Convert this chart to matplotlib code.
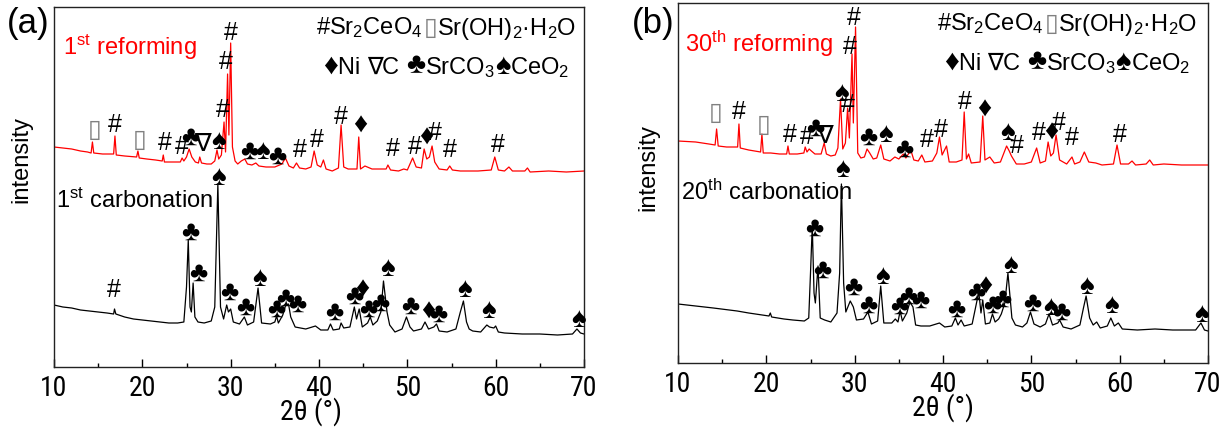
import matplotlib
matplotlib.use('Agg')
import matplotlib.pyplot as plt
from matplotlib import font_manager as fm
from matplotlib.offsetbox import TextArea, HPacker, AnnotationBbox

plt.rcParams['font.family'] = ['Liberation Sans', 'DejaVu Sans']
plt.rcParams['mathtext.fontset'] = 'custom'
plt.rcParams['mathtext.rm'] = 'Liberation Sans'
plt.rcParams['mathtext.it'] = 'Liberation Sans:italic'
plt.rcParams['mathtext.bf'] = 'Liberation Sans:bold'

# narrow face for the axis numbers, whichever is around
have = set(f.name for f in fm.fontManager.ttflist)
narrow = 'Liberation Sans'
for cand in ['Liberation Sans Narrow', 'Arial Narrow', 'Roboto Condensed', 'Archivo Narrow',
             'Open Sans Condensed', 'Noto Sans Condensed', 'Asap Condensed', 'Barlow Condensed']:
    if cand in have:
        narrow = cand
        break
NARROW = [narrow, 'DejaVu Sans']
SYM = ['Liberation Sans', 'DejaVu Sans']

# ---------------- panel (a) ----------------
a_ref_x = [10, 11, 12, 13, 13.8, 14.2, 14.35, 14.5, 15.5, 16.75, 16.9, 17.05, 18.0, 19.35, 19.5, 19.65,
           20.5, 21.5, 22.25, 22.37, 22.5, 23.5, 24.3, 24.5, 24.7, 25.0, 25.3, 25.6, 26.0, 26.35, 26.5,
           26.7, 27.3, 27.8, 28.2, 28.45, 28.65, 28.95, 29.25, 29.42, 29.65, 29.8, 30.0, 30.2, 30.5, 30.8,
           31.2, 31.6, 31.9, 32.4, 32.85, 33.2, 34.0, 35.0, 35.8, 36.2, 36.6, 37.1, 37.45, 37.8, 38.5,
           39.1, 39.45, 39.8, 40.2, 40.5, 40.8, 41.5, 42.2, 42.5, 42.8, 43.3, 44.3, 44.5, 44.7, 45.2,
           46.0, 47.0, 47.6, 47.8, 48.1, 49.0, 49.6, 50.0, 50.6, 51.0, 51.6, 51.9, 52.2, 52.5, 52.8,
           53.1, 53.6, 54.5, 54.8, 55.1, 56, 57, 58, 59.5, 59.9, 60.3, 61.0, 61.5, 61.9, 63.3, 63.6,
           63.9, 66, 68, 70]
a_ref_y = [220, 219, 218, 216, 215, 214, 225, 214, 213, 213, 231, 212, 211, 210, 216, 209,
           208, 207, 206, 212, 205, 205, 205, 209, 206, 210, 218, 210, 205, 204, 210,
           204, 203, 203, 206, 217, 208, 212, 245, 215, 293, 232, 324, 220, 206, 203,
           206, 208, 203, 202, 204, 201, 200, 200, 203, 209, 201, 199, 204, 199, 198,
           200, 216, 202, 200, 207, 198, 196, 199, 242, 200, 198, 198, 230, 198, 201,
           198, 198, 198, 202, 197, 196, 198, 197, 209, 200, 199, 218, 208, 210, 221,
           205, 198, 197, 201, 197, 196, 196, 196, 197, 210, 197, 196, 200, 196, 196, 199,
           195, 196, 195, 196]

a_carb_x = [10, 11, 12, 13, 14, 15, 16, 16.75, 16.85, 17.0, 18, 19, 20, 21, 22, 23, 24, 24.7, 25.0,
            25.2, 25.4, 25.55, 25.75, 25.95, 26.3, 27.0, 27.8, 28.2, 28.55, 28.85, 29.2, 29.55, 29.75,
            30.0, 30.3, 31.0, 31.55, 31.9, 32.6, 33.1, 33.5, 34.5, 35.0, 35.2, 35.4, 35.9, 36.2, 36.55,
            36.8, 37.3, 38.5, 39.6, 40.2, 41.0, 41.3, 41.6, 42.3, 42.5, 42.8, 43.5, 44.0, 44.25, 44.55,
            44.9, 45.5, 45.8, 46.1, 46.6, 47.0, 47.3, 47.7, 48.0, 48.6, 49.4, 49.9, 50.3, 50.7, 51.6,
            52.0, 52.4, 53.0, 53.3, 53.6, 54.5, 55.5, 56.0, 56.35, 56.7, 57.0, 57.4, 58.3, 59.0, 59.3,
            59.8, 60.0, 60.3, 61, 63, 65, 67, 68.7, 69.2, 69.6, 70]
a_carb_y = [62, 60, 59, 57, 56, 55, 54, 53, 58, 53, 50, 48, 47, 46, 45, 44, 44, 45, 80,
            127, 60, 55, 84, 50, 45, 44, 46, 60, 183, 60, 48, 62, 55,
            58, 45, 43, 50, 42, 45, 79, 44, 43, 45, 51, 44, 52, 61, 63,
            50, 40, 38, 41, 37, 37, 43, 37, 38, 44, 39, 40, 60, 48, 58,
            40, 44, 50, 42, 46, 55, 86, 55, 42, 35, 38, 50, 40, 36, 38,
            45, 38, 40, 43, 36, 35, 38, 55, 66, 45, 38, 36, 35, 42, 40,
            39, 41, 35, 34, 33, 33, 32, 33, 38, 34, 33]

a_ref_sym = ['▯', '#', '▯', '#', '#', '♣', '∇', '♠', '#', '#', '#', '♣', '♠', '♣', '#', '#', '#',
             '♦', '#', '#', '♦', '#', '#', '#']
a_ref_sx = [14.6, 16.9, 19.7, 22.6, 24.45, 25.4, 26.8, 28.6, 29.1, 29.5, 30.0, 32.1, 33.6, 35.3,
            37.8, 39.8, 42.5, 44.7, 48.4, 50.9, 52.1, 53.1, 54.85, 60.2]
a_ref_sy = [238, 243, 228, 225, 221, 230, 225, 226, 258, 306, 335, 216, 216, 211,
            218, 228, 251, 242, 219, 221, 230, 235, 218, 223]

a_carb_sym = ['#', '♣', '♣', '♠', '♣', '♣', '♠', '♣', '♣', '♣', '♣', '♣', '♦', '♣', '♣', '♠',
              '♣', '♦', '♣', '♠', '♠', '♠']
a_carb_sx = [16.8, 25.4, 26.3, 28.6, 29.9, 31.7, 33.3, 35.2, 36.2, 37.5, 41.7, 44.0, 44.9, 45.6,
             46.9, 47.8, 50.3, 52.4, 53.5, 56.5, 59.2, 69.4]
a_carb_sy = [78, 135, 94, 190, 75, 60, 89, 58, 69, 63, 55, 71, 78, 58,
             64, 99, 61, 56, 53, 78, 57, 48]

# ---------------- panel (b) ----------------
b_ref_x = [10, 12, 13.5, 14.2, 14.37, 14.55, 15.5, 16.75, 16.9, 17.05, 18.0, 19.35, 19.5, 19.65,
           20.5, 21.5, 22.3, 22.45, 22.6, 23.5, 24.25, 24.4, 24.6, 24.85, 25.1, 25.5, 26.2, 26.55,
           26.8, 27.3, 27.8, 28.1, 28.4, 28.65, 28.95, 29.2, 29.4, 29.7, 29.85, 30.1, 30.35, 30.7,
           31.1, 31.4, 31.7, 32.1, 32.5, 32.95, 33.3, 34.0, 34.55, 35.0, 35.5, 35.8, 36.35, 36.7,
           37.2, 37.6, 37.95, 38.8, 39.3, 39.6, 39.9, 40.4, 40.7, 41.5, 42.15, 42.4, 42.65, 42.9,
           43.2, 44.2, 44.5, 44.75, 45.3, 45.8, 46.5, 47.2, 47.5, 47.75, 48.3, 49.2, 50.0, 50.6,
           51.0, 51.6, 51.9, 52.2, 52.5, 52.8, 53.2, 54.0, 54.6, 54.9, 55.5, 56.0, 56.5, 57.3,
           58.0, 59.3, 59.7, 60.1, 61.0, 61.4, 61.8, 63.0, 63.4, 63.8, 65.0, 67.0, 70]
b_ref_y = [222, 221, 219, 218, 234, 217, 216, 216, 239, 215, 213, 211, 229, 210,
           210, 209, 209, 217, 209, 209, 210, 216, 211, 214, 212, 209, 209, 220,
           209, 207, 208, 215, 264, 214, 220, 255, 225, 309, 240, 336, 210, 205,
           206, 214, 210, 204, 205, 218, 204, 202, 206, 204, 209, 205, 213, 203,
           202, 208, 201, 202, 210, 226, 208, 217, 201, 201, 203, 251, 204, 209,
           200, 201, 247, 203, 206, 200, 201, 217, 212, 207, 199, 199, 201, 215,
           200, 202, 221, 207, 210, 228, 203, 199, 206, 199, 201, 211, 201, 200,
           198, 199, 218, 199, 199, 202, 198, 199, 203, 198, 199, 198, 198]

b_carb_x = [10, 12, 14, 16.7, 18, 20.3, 20.45, 20.6, 22, 23, 24.3, 24.8, 25.0, 25.2, 25.4, 25.55,
            25.85, 26.1, 26.6, 27.3, 28.0, 28.3, 28.5, 28.75, 29.0, 29.5, 29.85, 30.2, 31.0, 31.5,
            31.9, 32.6, 32.95, 33.3, 34.2, 34.6, 34.9, 35.15, 35.4, 35.9, 36.25, 36.6, 36.9, 37.5,
            38.5, 39.6, 40.2, 41.0, 41.4, 41.7, 42.05, 42.4, 43.3, 44.05, 44.3, 44.5, 44.8, 45.3,
            45.6, 45.9, 46.3, 46.6, 47.0, 47.35, 47.8, 48.2, 49.0, 49.5, 49.9, 50.3, 51.0, 51.6,
            52.0, 52.4, 53.0, 53.2, 53.6, 54.5, 55.5, 55.9, 56.2, 56.6, 57.0, 57.4, 57.8, 58.6,
            59.0, 59.4, 59.85, 60.3, 62, 64, 66, 68.6, 69.2, 69.6, 70]
b_carb_y = [59, 57, 55, 52, 50, 47, 50, 46, 44, 43, 42, 45, 90, 137, 70, 60,
            97, 45, 43, 41, 50, 90, 179, 80, 51, 62, 56, 43, 44, 51,
            39, 42, 77, 40, 40, 44, 41, 52, 42, 50, 61, 56, 38, 37,
            37, 40, 36, 37, 45, 38, 43, 37, 39, 71, 50, 63, 39, 40,
            49, 41, 44, 49, 60, 90, 45, 38, 36, 40, 51, 39, 36, 39,
            49, 38, 40, 43, 36, 34, 38, 55, 67, 45, 38, 41, 35, 37,
            45, 37, 40, 34, 33, 34, 33, 33, 40, 33, 32]

b_ref_sym = ['▯', '#', '▯', '#', '#', '♣', '∇', '♠', '#', '#', '#', '♣', '♠', '♣', '#', '#', '#',
             '♦', '♠', '#', '#', '♦', '#', '#', '#']
b_ref_sx = [14.3, 16.9, 19.65, 22.7, 24.55, 25.5, 26.6, 28.5, 29.2, 29.5, 29.95, 31.5, 33.5, 35.6,
            38.2, 39.8, 42.5, 44.7, 47.35, 48.4, 50.9, 52.2, 53.1, 54.6, 60.0]
b_ref_sy = [251, 252, 239, 229, 227, 235, 229, 270, 259, 317, 346, 226, 229, 214,
            224, 234, 262, 254, 231, 218, 231, 231, 241, 226, 229]

b_carb_sym = ['♣', '♣', '♠', '♣', '♣', '♠', '♣', '♣', '♣', '♣', '♣', '♦', '♣', '♣', '♠', '♣',
              '♠', '♣', '♠', '♠', '♠']
b_carb_sx = [25.4, 26.3, 28.6, 29.85, 31.6, 33.15, 35.1, 36.1, 37.4, 41.5, 43.8, 44.8, 45.6, 46.7,
             47.6, 50.1, 52.2, 53.45, 56.3, 59.05, 69.3]
b_carb_sy = [135, 93, 194, 76, 58, 87, 57, 67, 63, 54, 71, 77, 58, 64,
             98, 60, 56, 51, 77, 58, 49]

panels = [
    dict(pos=[54 / 1231, 63 / 431, 530 / 1231, 360 / 431], tag='(a)', tagx=28,
         ref=(a_ref_x, a_ref_y), carb=(a_carb_x, a_carb_y),
         rsym=(a_ref_sym, a_ref_sx, a_ref_sy), csym=(a_carb_sym, a_carb_sx, a_carb_sy),
         rlab=r'1$^{\mathrm{st}}$ reforming', clab=r'1$^{\mathrm{st}}$ carbonation',
         rpos=(0.017, 0.869), cpos=(0.004, 0.444), ylab=(-0.04, 0.58), leg=0.74, xl=0.485),
    dict(pos=[678 / 1231, 67 / 431, 530 / 1231, 360 / 431], tag='(b)', tagx=653,
         ref=(b_ref_x, b_ref_y), carb=(b_carb_x, b_carb_y),
         rsym=(b_ref_sym, b_ref_sx, b_ref_sy), csym=(b_carb_sym, b_carb_sx, b_carb_sy),
         rlab=r'30$^{\mathrm{th}}$ reforming', clab=r'20$^{\mathrm{th}}$ carbonation',
         rpos=(0.013, 0.867), cpos=(0.006, 0.456), ylab=(-0.036, 0.547), leg=0.734, xl=0.5),
]

fig = plt.figure(figsize=(12.31, 4.31), dpi=100)


def sym_size(s):
    # the suit glyphs come out small, so push them up a little
    return 20 if s in '♣♠♦' else 18


for p in panels:
    ax = fig.add_axes(p['pos'])
    ax.plot(p['ref'][0], p['ref'][1], color='red', lw=0.9)
    ax.plot(p['carb'][0], p['carb'][1], color='black', lw=0.9)
    ax.set_xlim(10, 70)
    ax.set_ylim(0, 360)
    ax.set_yticks([])
    ax.set_xticks([10, 20, 30, 40, 50, 60, 70])
    ax.set_xticks([15, 25, 35, 45, 55, 65], minor=True)
    ax.tick_params(axis='x', which='major', direction='in', length=6, width=1, pad=5,
                   labelsize=20)
    ax.tick_params(axis='x', which='minor', direction='in', length=3, width=1)
    for lab in ax.get_xticklabels():
        lab.set_family(NARROW)
    for sp in ax.spines.values():
        sp.set_linewidth(1.0)
        sp.set_color('#222222')
    ax.set_xlabel('2θ (°)', fontsize=20, family=NARROW)
    ax.xaxis.set_label_coords(p['xl'], -0.08)
    ax.set_ylabel('intensity', fontsize=17)
    ax.yaxis.set_label_coords(*p['ylab'])

    for s, x, y in zip(*p['rsym']):
        ax.text(x, y, s, ha='center', va='center', fontsize=sym_size(s), family=SYM,
                color='#808080' if s == '▯' else 'black')
    for s, x, y in zip(*p['csym']):
        ax.text(x, y, s, ha='center', va='center', fontsize=sym_size(s), family=SYM,
                color='black')

    ax.text(*p['rpos'], p['rlab'], transform=ax.transAxes, color='red', fontsize=17,
            ha='left', va='baseline')
    ax.text(*p['cpos'], p['clab'], transform=ax.transAxes, color='black', fontsize=17,
            ha='left', va='baseline')

    # phase key, two centred lines
    tp = dict(fontsize=17, color='black')
    sp_ = dict(fontsize=21, color='black', family=SYM)
    line1 = HPacker(children=[
        TextArea('#Sr$_2$CeO$_4$ ', textprops=tp),
        TextArea('▯', textprops=dict(fontsize=18, color='#808080', family=SYM)),
        TextArea('Sr(OH)$_2$·H$_2$O', textprops=tp)], align='baseline', pad=0, sep=0)
    line2 = HPacker(children=[
        TextArea('♦', textprops=sp_),
        TextArea('Ni ', textprops=tp),
        TextArea('∇', textprops=dict(tp, family=SYM)),
        TextArea('C ', textprops=tp),
        TextArea('♣', textprops=sp_),
        TextArea('SrCO$_3$', textprops=tp),
        TextArea('♠', textprops=sp_),
        TextArea('CeO$_2$', textprops=tp)], align='baseline', pad=0, sep=0)
    for box, yy in ((line1, 0.943), (line2, 0.84)):
        ab = AnnotationBbox(box, (p['leg'], yy), xycoords='axes fraction',
                            box_alignment=(0.5, 0.5), frameon=False, pad=0)
        ax.add_artist(ab)

    fig.text(p['tagx'] / 1231, 1 - 23 / 431, p['tag'], fontsize=25, ha='center', va='center')

fig.savefig('out.png', dpi=100)
